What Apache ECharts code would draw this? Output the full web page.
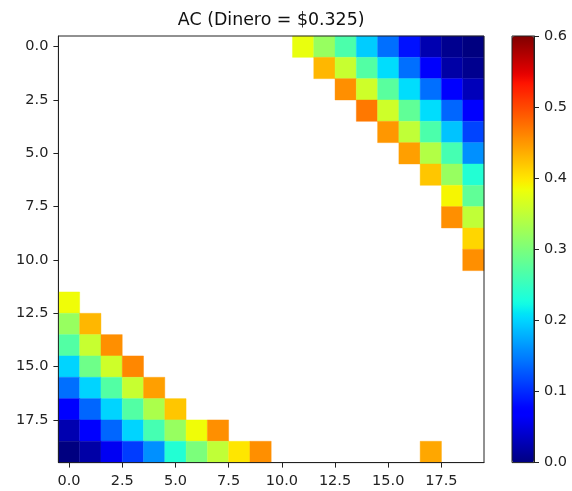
<!DOCTYPE html>
<html>
<head>
<meta charset="utf-8">
<script src="https://cdn.jsdelivr.net/npm/echarts@6/dist/echarts.min.js"></script>
<style>
  html, body { margin: 0; padding: 0; background: #fff; }
  #chart { width: 572px; height: 491px; }
</style>
</head>
<body>
<div id="chart"></div>
<script>
// Title and tick labels
const titleText = 'AC (Dinero = $0.325)';
const axisTicks = [0, 2.5, 5, 7.5, 10, 12.5, 15, 17.5];
const colorTicks = [0, 0.1, 0.2, 0.3, 0.4, 0.5, 0.6];

// Upper-right block: rows 0..10, each row starts at the given column and runs to column 19
const upperFirstCol = [11, 12, 13, 14, 15, 16, 17, 18, 18, 19, 19];
const upperValues = [
  [0.38, 0.32, 0.265, 0.195, 0.14, 0.085, 0.025, 0.008, 0.0],
  [0.43, 0.355, 0.27, 0.205, 0.14, 0.065, 0.02, 0.008],
  [0.455, 0.36, 0.275, 0.205, 0.14, 0.07, 0.03],
  [0.47, 0.36, 0.28, 0.205, 0.135, 0.07],
  [0.45, 0.35, 0.265, 0.19, 0.115],
  [0.445, 0.34, 0.26, 0.16],
  [0.42, 0.32, 0.235],
  [0.39, 0.28],
  [0.455, 0.35],
  [0.41],
  [0.455]
];

// Lower-left block: rows 12..19, each row starts at column 0
const lowerFirstRow = 12;
const lowerValues = [
  [0.385],
  [0.32, 0.43],
  [0.27, 0.355, 0.455],
  [0.20, 0.29, 0.36, 0.46],
  [0.14, 0.20, 0.27, 0.355, 0.445],
  [0.07, 0.135, 0.20, 0.27, 0.335, 0.42],
  [0.025, 0.07, 0.135, 0.20, 0.26, 0.32, 0.385, 0.455],
  [0.0, 0.02, 0.06, 0.11, 0.16, 0.235, 0.30, 0.35, 0.40, 0.455]
];

// Single isolated cell: [column, row, value]
const extraCells = [[17, 19, 0.44]];

// Color scale range
const vmin = 0;
const vmax = 0.6;

// Jet colormap (piecewise-linear segments)
const jetSegments = {
  r: [[0, 0], [0.35, 0], [0.66, 1], [0.89, 1], [1, 0.5]],
  g: [[0, 0], [0.125, 0], [0.375, 1], [0.64, 1], [0.91, 0], [1, 0]],
  b: [[0, 0.5], [0.11, 1], [0.34, 1], [0.65, 0], [1, 0]]
};
function seg(points, t) {
  for (let i = 1; i < points.length; i++) {
    if (t <= points[i][0]) {
      const [x0, y0] = points[i - 1], [x1, y1] = points[i];
      return y0 + (y1 - y0) * (t - x0) / (x1 - x0);
    }
  }
  return points[points.length - 1][1];
}
function jet(t) {
  const c = ch => Math.round(255 * seg(jetSegments[ch], t));
  return 'rgb(' + c('r') + ',' + c('g') + ',' + c('b') + ')';
}
const jetStops = [];
for (let i = 0; i <= 128; i++) jetStops.push(jet(i / 128));

// Assemble [column, row, value] triplets
const cells = [];
upperValues.forEach((row, r) => {
  row.forEach((v, k) => cells.push([upperFirstCol[r] + k, r, v]));
});
lowerValues.forEach((row, k) => {
  row.forEach((v, c) => cells.push([c, lowerFirstRow + k, v]));
});
extraCells.forEach(c => cells.push(c));

const FONT = 'DejaVu Sans';
const TEXT = '#222';
const fmt1 = v => Number(v).toFixed(1);

const plot = { left: 58.4, top: 36, width: 425.6, height: 426.6 };
const cbar = { left: 512, top: 36, width: 22, height: 426.6 };

const chart = echarts.init(document.getElementById('chart'), null, { renderer: 'canvas' });

chart.setOption({
  animation: false,
  backgroundColor: '#fff',
  graphic: [{
    type: 'text',
    x: plot.left + plot.width / 2,
    y: 20,
    style: {
      text: titleText,
      fontFamily: FONT,
      fontSize: 17.4,
      fill: '#111',
      textAlign: 'center',
      textVerticalAlign: 'middle'
    }
  }],
  grid: [
    Object.assign({ show: true, z: 10, borderColor: '#222', borderWidth: 1, backgroundColor: 'transparent' }, plot),
    Object.assign({ show: true, z: 10, borderColor: '#222', borderWidth: 1, backgroundColor: 'transparent' }, cbar)
  ],
  xAxis: [{
    type: 'value', gridIndex: 0, min: -0.5, max: 19.5,
    axisLine: { show: true, onZero: false, lineStyle: { color: '#222', width: 1 } },
    axisTick: { show: true, customValues: axisTicks, length: 5, lineStyle: { color: '#222', width: 1 } },
    axisLabel: { customValues: axisTicks, formatter: fmt1, margin: 11, fontFamily: FONT, fontSize: 14.5, color: TEXT },
    splitLine: { show: false }
  }, {
    type: 'value', gridIndex: 1, min: 0, max: 1, show: false
  }],
  yAxis: [{
    type: 'value', gridIndex: 0, min: -0.5, max: 19.5, inverse: true,
    axisLine: { show: true, onZero: false, lineStyle: { color: '#222', width: 1 } },
    axisTick: { show: true, customValues: axisTicks, length: 5, lineStyle: { color: '#222', width: 1 } },
    axisLabel: { customValues: axisTicks, formatter: fmt1, margin: 10, fontFamily: FONT, fontSize: 14.5, color: TEXT },
    splitLine: { show: false }
  }, {
    type: 'value', gridIndex: 1, min: vmin, max: vmax, position: 'right',
    axisLine: { show: true, onZero: false, lineStyle: { color: '#222', width: 1 } },
    axisTick: { show: true, customValues: colorTicks, length: 5, lineStyle: { color: '#222', width: 1 } },
    axisLabel: { customValues: colorTicks, formatter: fmt1, margin: 10, fontFamily: FONT, fontSize: 14.5, color: TEXT },
    splitLine: { show: false }
  }],
  visualMap: {
    type: 'continuous',
    seriesIndex: 0,
    dimension: 2,
    min: vmin,
    max: vmax,
    calculable: false,
    hoverLink: false,
    orient: 'vertical',
    left: cbar.left,
    top: cbar.top,
    padding: 0,
    itemWidth: cbar.width,
    itemHeight: cbar.height,
    inRange: { color: jetStops }
  },
  series: [{
    type: 'custom',
    xAxisIndex: 0,
    yAxisIndex: 0,
    encode: { x: 0, y: 1 },
    data: cells,
    renderItem: function (params, api) {
      const c = api.value(0), r = api.value(1);
      const p0 = api.coord([c - 0.5, r - 0.5]);
      const p1 = api.coord([c + 0.5, r + 0.5]);
      const color = api.visual('color');
      return {
        type: 'rect',
        shape: {
          x: Math.min(p0[0], p1[0]),
          y: Math.min(p0[1], p1[1]),
          width: Math.abs(p1[0] - p0[0]),
          height: Math.abs(p1[1] - p0[1])
        },
        style: { fill: color, stroke: color, lineWidth: 0.4 }
      };
    }
  }]
});
</script>
</body>
</html>
